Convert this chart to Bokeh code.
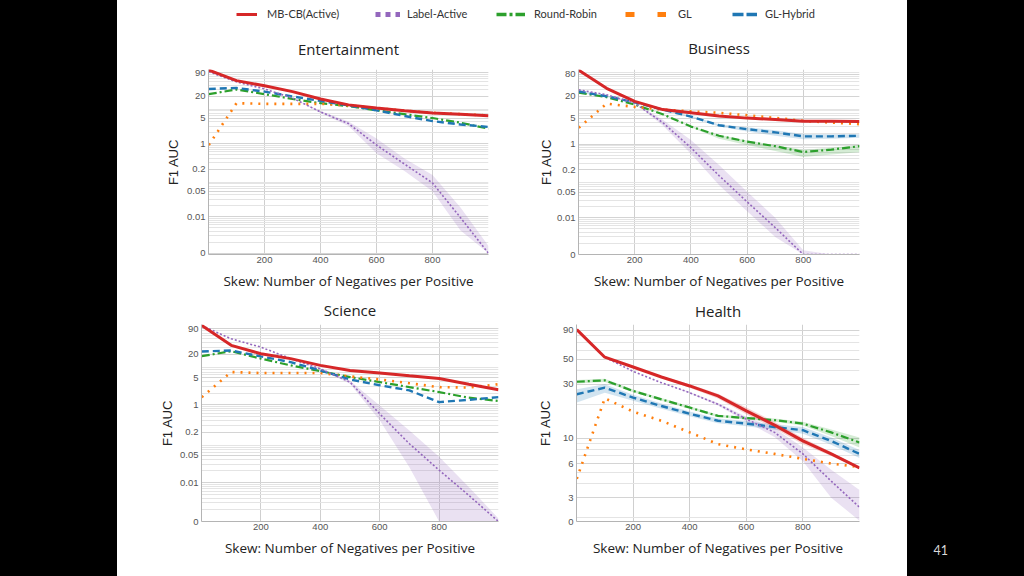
from bokeh.plotting import figure
from bokeh.models import Range1d, FixedTicker, Legend, LegendItem, Label, GlobalInlineStyleSheet
from bokeh.layouts import row, column
from bokeh.embed import file_html
from bokeh.resources import INLINE

# ---------------- data ----------------
SKEW = [1, 100, 200, 300, 400, 500, 600, 700, 800, 900, 1000]
ZERO = 0.001          # where "0" sits on the log axes
HEALTH_ZERO = 1.85    # where "0" sits on the Health axis

SERIES_NAMES = ["MB-CB(Active)", "Label-Active", "Round-Robin", "GL", "GL-Hybrid"]
TITLES = ["Entertainment", "Business", "Science", "Health"]
X_LABEL = "Skew: Number of Negatives per Positive"
Y_LABEL = "F1 AUC"
X_TICKS = [200, 400, 600, 800]
PAGE_NUMBER = "41"

# Entertainment
ent_mbcb = [105, 54, 39, 27, 17, 11.7, 9.6, 8.1, 7.0, 6.5, 5.9]
ent_label = [95, 50, 32, 18, 7.5, 3.6, 0.93, 0.28, 0.085, 0.0095, ZERO]
ent_label_lo = [95, 50, 32, 18, 7.0, 3.1, 0.55, 0.18, 0.05, 0.0042, ZERO]
ent_label_hi = [95, 50, 32, 18, 8.0, 4.1, 1.41, 0.40, 0.14, 0.018, 0.0016]
ent_rr = [23, 31, 23, 17, 13, 10.8, 8.3, 6.5, 5.1, 3.8, 2.6]
ent_gl = [0.93, 13, 12.5, 12.5, 12.5, 11.3, 9.6, 8.1, 7.1, 6.5, 6.0]
ent_hyb = [32, 34, 27, 20, 15, 11.3, 8.3, 5.8, 4.2, 3.4, 2.9]
ent_yticks = [90, 20, 5, 1, 0.2, 0.05, 0.01, ZERO]
ent_ylabels = ["90", "20", "5", "1", "0.2", "0.05", "0.01", "0"]

# Business
bus_mbcb = [102, 33, 14.5, 8.7, 7.1, 5.8, 5.1, 4.7, 4.2, 4.2, 4.1]
bus_label = [30, 22, 13, 3.85, 0.8, 0.14, 0.027, 0.0054, ZERO, ZERO, ZERO]
bus_label_lo = [30, 22, 13, 3.2, 0.55, 0.078, 0.015, 0.003, ZERO, ZERO, ZERO]
bus_label_hi = [30, 22, 13, 4.6, 1.3, 0.27, 0.051, 0.01, 0.0013, ZERO, ZERO]
bus_rr = [25, 19, 11.9, 6.5, 3.0, 1.69, 1.17, 0.88, 0.61, 0.71, 0.88]
bus_rr_lo = [25, 19, 11.9, 6.3, 2.9, 1.4, 0.95, 0.65, 0.45, 0.52, 0.6]
bus_rr_hi = [25, 19, 11.9, 6.7, 3.1, 1.8, 1.25, 0.95, 0.7, 0.8, 0.95]
bus_gl = [2.8, 12.6, 10.3, 8.7, 7.8, 7.1, 6.1, 5.2, 4.3, 3.85, 3.5]
bus_hyb = [27, 20, 13.7, 8.7, 5.6, 3.26, 2.55, 2.09, 1.63, 1.63, 1.69]
bus_hyb_lo = [25, 19, 13, 8.3, 5.3, 3.0, 2.2, 1.7, 1.35, 1.4, 1.5]
bus_hyb_hi = [29, 21, 14.4, 9.1, 5.9, 3.5, 2.9, 2.4, 1.9, 1.85, 1.85]
bus_yticks = [80, 20, 5, 1, 0.2, 0.05, 0.01, ZERO]
bus_ylabels = ["80", "20", "5", "1", "0.2", "0.05", "0.01", "0"]

# Science
sci_mbcb = [110, 34, 20.7, 15.5, 10.4, 7.7, 6.6, 5.6, 4.8, 3.4, 2.45]
sci_label = [110, 50, 30.6, 15.5, 8.5, 3.86, 0.59, 0.1, 0.021, 0.0047, ZERO]
sci_label_lo = [110, 50, 30.6, 15.5, 8.3, 3.5, 0.4, 0.025, ZERO, ZERO, ZERO]
sci_label_hi = [110, 50, 30.6, 15.5, 8.7, 4.2, 0.97, 0.22, 0.046, 0.0077, 0.0012]
sci_rr = [18, 24, 15.5, 10.4, 7.4, 5.2, 3.86, 2.86, 2.14, 1.53, 1.26]
sci_gl = [1.58, 7.0, 6.6, 6.6, 6.6, 5.4, 4.5, 3.6, 2.86, 2.8, 3.4]
sci_hyb = [23.7, 25, 17.7, 12.6, 7.7, 4.5, 3.2, 2.36, 1.18, 1.35, 1.58]
sci_yticks = [90, 20, 5, 1, 0.2, 0.05, 0.01, ZERO]
sci_ylabels = ["90", "20", "5", "1", "0.2", "0.05", "0.01", "0"]

# Health
hea_mbcb = [91, 52, 42.6, 34.8, 29, 23.7, 17.5, 13.1, 9.5, 7.3, 5.5]
hea_mbcb_lo = [91, 52, 42, 34, 28, 22.5, 16.3, 12.2, 8.9, 7.0, 5.4]
hea_mbcb_hi = [91, 52, 43, 35.5, 30, 24.8, 18.7, 14, 10.1, 7.6, 5.6]
hea_label = [91, 52, 39, 31, 25.3, 20, 14.8, 11.3, 7.3, 4.2, 2.47]
hea_label_lo = [91, 52, 39, 31, 25, 19.5, 14, 10.3, 6.3, 3.0, 1.88]
hea_label_hi = [91, 52, 39, 31, 25.6, 20.5, 15.5, 12.3, 8.3, 5.3, 3.5]
hea_rr = [31.6, 32.5, 26.2, 22.1, 18.7, 15.8, 15.1, 14.5, 13.5, 11.3, 9.2]
hea_rr_lo = [30.5, 31.5, 25.5, 21.5, 18.2, 15.4, 14.7, 14, 13, 10.5, 8.3]
hea_rr_hi = [32.7, 33.5, 27, 22.7, 19.2, 16.2, 15.5, 15, 14, 12, 10.2]
hea_gl = [4.4, 22.6, 17.2, 14.3, 11.3, 8.9, 8.0, 7.3, 6.6, 6.0, 5.6]
hea_hyb = [24.5, 28, 22.9, 19.3, 16.5, 14.3, 13.5, 12.6, 11.8, 9.5, 7.3]
hea_hyb_lo = [20.7, 25.3, 21.5, 18.3, 15.7, 13.6, 12.8, 11.9, 11.0, 8.8, 6.7]
hea_hyb_hi = [27.1, 30, 24.3, 20.3, 17.3, 15, 14.2, 13.3, 12.6, 10.2, 7.9]
hea_yticks = [90, 50, 30, 10, 6, 3, HEALTH_ZERO]
hea_ylabels = ["90", "50", "30", "10", "6", "3", "0"]

# ---------------- styles ----------------
COLORS = ["#d62728", "#9467bd", "#2ca02c", "#ff7f0e", "#1f77b4"]
WIDTHS = [3, 1.6, 2.2, 2.6, 2.4]
DASHES = ["solid", "2 2", "8 3 2 3", "2 6", "7 4"]
DRAW_ORDER = [2, 3, 4, 1, 0]
MINOR = [k * 10.0 ** d for d in range(-3, 3) for k in range(2, 10)]


def panel(title, lines, bands, yrange, yticks, ylabels, w, h, borders,
          title_standoff, ylabel_standoff):
    left, right, top, bottom = borders
    p = figure(width=w, height=h, x_range=Range1d(0, 1000), y_range=Range1d(*yrange),
               y_axis_type="log", output_backend="svg", toolbar_location=None,
               min_border_left=left, min_border_right=right,
               min_border_top=top, min_border_bottom=bottom,
               background_fill_color="white", border_fill_color="white")
    p.outline_line_color = None
    p.title.text = title
    p.title.align = "center"
    p.title.text_font = "Open Sans"
    p.title.text_font_size = "15px"
    p.title.text_font_style = "normal"
    p.title.text_color = "#222222"
    p.title.standoff = title_standoff

    xa = p.xaxis[0]
    xa.ticker = FixedTicker(ticks=X_TICKS, minor_ticks=[])
    xa.axis_label = X_LABEL
    xa.axis_label_text_font = "Open Sans"
    xa.axis_label_text_font_size = "13.5px"
    xa.axis_label_text_font_style = "normal"
    xa.axis_label_text_color = "#222222"
    xa.axis_label_standoff = 6
    xa.major_label_standoff = 2
    ya = p.yaxis[0]
    ya.ticker = FixedTicker(ticks=yticks, minor_ticks=MINOR)
    ya.major_label_overrides = {t: s for t, s in zip(yticks, ylabels)}
    ya.axis_label = Y_LABEL
    ya.axis_label_text_font = "Liberation Sans"
    ya.axis_label_text_font_size = "13px"
    ya.axis_label_text_font_style = "normal"
    ya.axis_label_text_color = "#222222"
    ya.axis_label_standoff = ylabel_standoff
    ya.major_label_standoff = 3
    for ax in (xa, ya):
        ax.major_label_text_font = "Liberation Sans"
        ax.major_label_text_font_size = "9.5px"
        ax.major_label_text_color = "#555555"
        ax.major_tick_line_color = None
        ax.minor_tick_line_color = None
        ax.major_tick_out = 0
        ax.major_tick_in = 0
        ax.minor_tick_out = 0
        ax.minor_tick_in = 0
        ax.axis_line_color = "#b4b4b4"
    p.xgrid.grid_line_color = "#cfcfcf"
    p.ygrid.grid_line_color = "#d4d4d4"
    p.ygrid.minor_grid_line_color = "#e4e4e4"

    for idx, lo, hi in bands:
        p.varea(x=SKEW, y1=lo, y2=hi, fill_color=COLORS[idx], fill_alpha=0.2)
    for idx in DRAW_ORDER:
        p.line(SKEW, lines[idx], line_color=COLORS[idx], line_width=WIDTHS[idx],
               line_dash=DASHES[idx])
    return p


ent = panel(TITLES[0], [ent_mbcb, ent_label, ent_rr, ent_gl, ent_hyb],
            [(1, ent_label_lo, ent_label_hi)],
            (0.00093, 109), ent_yticks, ent_ylabels, 408, 272, (91, 37, 47, 38), 22, 3)
bus = panel(TITLES[1], [bus_mbcb, bus_label, bus_rr, bus_gl, bus_hyb],
            [(1, bus_label_lo, bus_label_hi), (2, bus_rr_lo, bus_rr_hi), (4, bus_hyb_lo, bus_hyb_hi)],
            (0.001, 107), bus_yticks, bus_ylabels, 382, 272, (53, 48, 49, 37), 23, 0)
sci = panel(TITLES[2], [sci_mbcb, sci_label, sci_rr, sci_gl, sci_hyb],
            [(1, sci_label_lo, sci_label_hi)],
            (0.001, 117), sci_yticks, sci_ylabels, 408, 268, (84, 27, 32, 39), 9, 2)
hea = panel(TITLES[3], [hea_mbcb, hea_label, hea_rr, hea_gl, hea_hyb],
            [(0, hea_mbcb_lo, hea_mbcb_hi), (1, hea_label_lo, hea_label_hi),
             (2, hea_rr_lo, hea_rr_hi), (4, hea_hyb_lo, hea_hyb_hi)],
            (HEALTH_ZERO, 101), hea_yticks, hea_ylabels, 382, 268, (51, 48, 31, 39), 8, 7)

# ---------------- legend strip ----------------
lg = figure(width=790, height=20, x_range=Range1d(0, 1), y_range=Range1d(0, 1),
            x_axis_location=None, y_axis_location=None, output_backend="svg",
            toolbar_location=None, min_border=0,
            background_fill_color="white", border_fill_color="white")
lg.outline_line_color = None
lg.grid.visible = False
LEG_X = [119, 258, 379, 508, 615]
LEG_GLYPH_W = [21, 25, 29, 41, 25]
LEG_STANDOFF = [10, 7, 9, 12, 8]
LEG_LW = [3, 5, 3.5, 5, 3.5]
LEG_DASH = ["solid", "5 5", "10 3 3 3", "9 23", "11 3"]
ent_series = [ent_mbcb, ent_label, ent_rr, ent_gl, ent_hyb]
for i, name in enumerate(SERIES_NAMES):
    # series drawn outside this strip's ranges, so only the legend sample shows
    r = lg.line(x=SKEW, y=ent_series[i], line_color=COLORS[i], line_width=LEG_LW[i],
                line_dash=LEG_DASH[i])
    leg = Legend(items=[LegendItem(label=name, renderers=[r])], location=(LEG_X[i], 0),
                 orientation="horizontal", glyph_width=LEG_GLYPH_W[i], glyph_height=6,
                 label_height=6, label_standoff=LEG_STANDOFF[i], padding=0, margin=0,
                 spacing=0, border_line_color=None, background_fill_alpha=0,
                 label_text_font="Lato", label_text_font_size="11px",
                 label_text_color="#333333")
    lg.add_layout(leg)

# ---------------- black slide surround ----------------
def black_side(w, text=None):
    b = figure(width=w, height=560, x_range=Range1d(0, 1), y_range=Range1d(0, 1),
               x_axis_location=None, y_axis_location=None, output_backend="svg",
               toolbar_location=None, min_border=0,
               background_fill_color="black", border_fill_color="black")
    b.outline_line_color = None
    b.grid.visible = False
    if text:
        b.add_layout(Label(x=26, y=11, x_units="screen", y_units="screen", text=text,
                           text_baseline="middle", text_color="#d9d9d9",
                           text_font="Lato", text_font_size="12.5px"))
    return b

slide = column(lg, row(ent, bus), row(sci, hea))
root = row(black_side(117), slide, black_side(101, PAGE_NUMBER))
root.stylesheets = [GlobalInlineStyleSheet(css=(
    "body{background:linear-gradient(to right,#000 0px,#000 117px,#fff 117px,"
    "#fff 907px,#000 907px,#000 100%);}"))]

open("out.html", "w").write(file_html(root, INLINE))
